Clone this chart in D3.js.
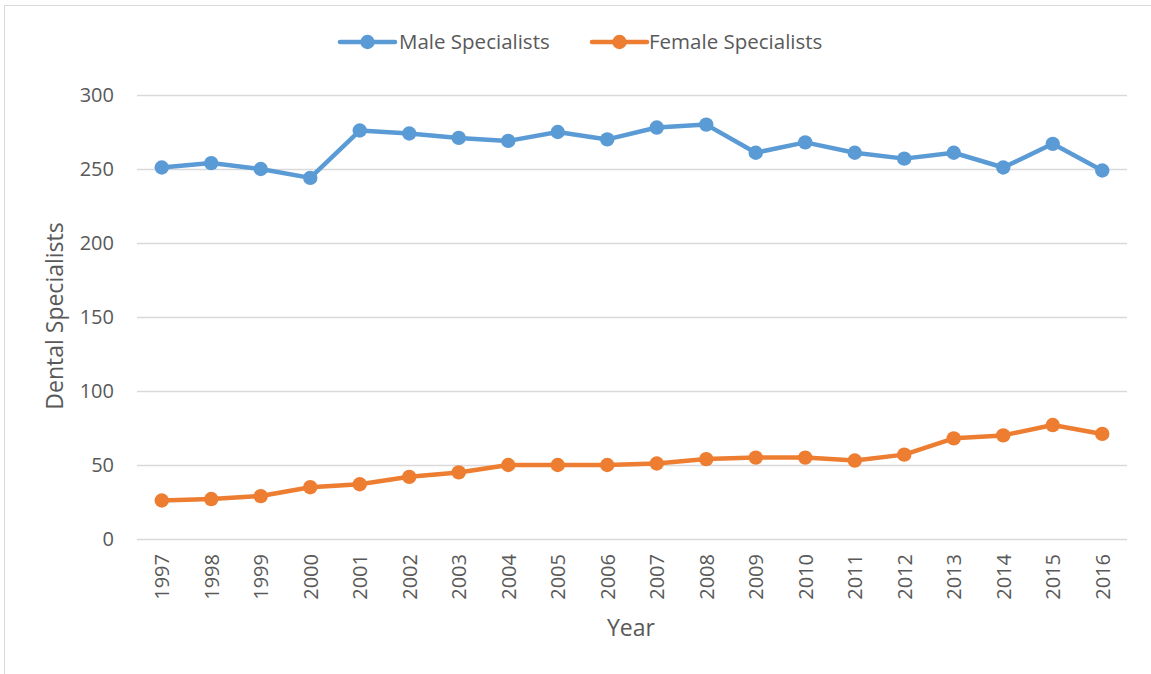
<!DOCTYPE html>
<html>
<head>
<meta charset="utf-8">
<script src="https://cdn.jsdelivr.net/npm/d3@7"></script>
<style>
  html, body { margin: 0; padding: 0; background: #ffffff; }
  svg { display: block; }
  text { font-family: "Open Sans", "Lato", sans-serif; fill: #595959; }
</style>
</head>
<body>
<svg id="chart" width="1151" height="674"></svg>
<script>
// Dental specialists by sex, 1997–2016
const years = ["1997","1998","1999","2000","2001","2002","2003","2004","2005","2006",
               "2007","2008","2009","2010","2011","2012","2013","2014","2015","2016"];
const maleSpecialists   = [251,254,250,244,276,274,271,269,275,270,278,280,261,268,261,257,261,251,267,249];
const femaleSpecialists = [26,27,29,35,37,42,45,50,50,50,51,54,55,55,53,57,68,70,77,71];
const yTicks = [0,50,100,150,200,250,300];
const seriesNames = ["Male Specialists", "Female Specialists"];
const seriesColors = ["#5b9bd5", "#ed7d31"];

const FONT = "'Open Sans', Lato, sans-serif";
const svg = d3.select("#chart");
const plot = { left: 137, right: 1127, top: 95, bottom: 539 };

// outer chart frame
svg.append("rect")
  .attr("x", 4.5).attr("y", 5.5)
  .attr("width", 1160).attr("height", 700)
  .attr("fill", "none").attr("stroke", "#d9d9d9").attr("stroke-width", 1);

const x = d3.scalePoint().domain(years).range([plot.left, plot.right]).padding(0.5);
const y = d3.scaleLinear().domain([0, 300]).range([plot.bottom, plot.top]);

// horizontal gridlines + y tick labels
const yAxis = d3.axisLeft(y).tickValues(yTicks).tickSize(-(plot.right - plot.left)).tickPadding(23);
const gy = svg.append("g").attr("transform", `translate(${plot.left},0)`).call(yAxis);
gy.select(".domain").remove();
gy.selectAll(".tick line").attr("stroke", "#d9d9d9").attr("stroke-width", 1.3);
gy.selectAll(".tick text")
  .attr("font-size", 20).attr("fill", "#595959")
  .style("font-family", FONT);

// x tick labels rotated
const xAxis = d3.axisBottom(x).tickSize(0).tickPadding(0);
const gx = svg.append("g").attr("transform", `translate(0,${plot.bottom})`).call(xAxis);
gx.select(".domain").remove();
gx.selectAll(".tick text")
  .attr("font-size", 20).attr("fill", "#595959")
  .style("font-family", FONT)
  .attr("text-anchor", "end")
  .attr("dy", "0.35em")
  .attr("transform", "translate(0,15) rotate(-90)")
  .attr("x", 0).attr("y", 0);

// axis titles
svg.append("text")
  .attr("x", 631).attr("y", 636)
  .attr("text-anchor", "middle").attr("font-size", 23)
  .text("Year");
svg.append("text")
  .attr("transform", "translate(63,316) rotate(-90)")
  .attr("text-anchor", "middle").attr("font-size", 23)
  .text("Dental Specialists");

// series lines and markers
const series = [maleSpecialists, femaleSpecialists];
const line = d3.line().x((d, i) => x(years[i])).y(d => y(d));
series.forEach((vals, s) => {
  svg.append("path")
    .datum(vals)
    .attr("d", line)
    .attr("fill", "none")
    .attr("stroke", seriesColors[s])
    .attr("stroke-width", 4.5)
    .attr("stroke-linejoin", "round")
    .attr("stroke-linecap", "round");
  svg.append("g").selectAll("circle")
    .data(vals)
    .join("circle")
    .attr("cx", (d, i) => x(years[i]))
    .attr("cy", d => y(d))
    .attr("r", 7.2)
    .attr("fill", seriesColors[s]);
});

// legend
const legendItems = [
  { x0: 340, textX: 399 },
  { x0: 592, textX: 649 }
];
legendItems.forEach((it, s) => {
  const g = svg.append("g");
  g.append("line")
    .attr("x1", it.x0).attr("x2", it.x0 + 55)
    .attr("y1", 42).attr("y2", 42)
    .attr("stroke", seriesColors[s]).attr("stroke-width", 4.5)
    .attr("stroke-linecap", "round");
  g.append("circle")
    .attr("cx", it.x0 + 27.5).attr("cy", 42).attr("r", 7.2)
    .attr("fill", seriesColors[s]);
  g.append("text")
    .attr("x", it.textX).attr("y", 42)
    .attr("dy", "0.35em")
    .attr("font-size", 20.5)
    .text(seriesNames[s]);
});
</script>
</body>
</html>
